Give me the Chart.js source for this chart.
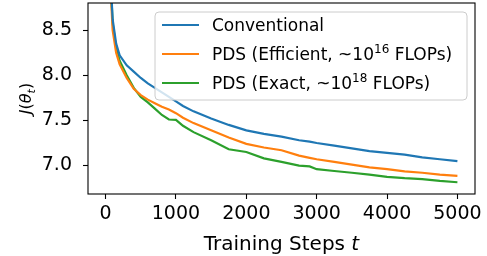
<!DOCTYPE html>
<html>
<head>
<meta charset="utf-8">
<script src="https://cdn.jsdelivr.net/npm/chart.js@4"></script>
<style>
  html, body { margin: 0; padding: 0; background: #fff; }
</style>
</head>
<body>
<canvas id="chart" width="487" height="256"></canvas>
<script>
// training steps (x values)
const steps = [0, 50, 100, 150, 200, 300, 400, 500, 600, 700, 800, 900, 1000, 1100, 1250, 1500, 1750, 2000, 2250, 2500, 2750, 2900, 3000, 3250, 3500, 3750, 4000, 4250, 4500, 4750, 5000];

// J(theta_t) per series
const conventional = [10.5, 9.4, 8.62, 8.35, 8.22, 8.11, 8.04, 7.97, 7.91, 7.86, 7.81, 7.76, 7.71, 7.66, 7.60, 7.52, 7.45, 7.39, 7.35, 7.32, 7.28, 7.265, 7.25, 7.22, 7.19, 7.16, 7.14, 7.12, 7.09, 7.07, 7.05];
const pdsEfficient = [10.5, 9.3, 8.50, 8.25, 8.12, 7.97, 7.85, 7.78, 7.73, 7.69, 7.65, 7.62, 7.58, 7.53, 7.47, 7.39, 7.31, 7.24, 7.20, 7.17, 7.11, 7.085, 7.07, 7.04, 7.01, 6.98, 6.96, 6.935, 6.92, 6.90, 6.885];
const pdsExact = [10.5, 9.4, 8.58, 8.30, 8.16, 8.00, 7.86, 7.76, 7.70, 7.63, 7.56, 7.51, 7.505, 7.44, 7.37, 7.28, 7.18, 7.15, 7.08, 7.04, 7.00, 6.99, 6.96, 6.94, 6.92, 6.90, 6.875, 6.86, 6.85, 6.83, 6.815];

const xTicks = [0, 1000, 2000, 3000, 4000, 5000];
const yTicks = [7.0, 7.5, 8.0, 8.5];

// legend labels: [text, superscript, tail]
const legendLabels = [
  ['Conventional', '', ''],
  ['PDS (Efficient, ~10', '16', ' FLOPs)'],
  ['PDS (Exact, ~10', '18', ' FLOPs)']
];
const colors = ['#1f77b4', '#ff7f0e', '#2ca02c'];
const seriesData = [conventional, pdsEfficient, pdsExact];

const FONT = "'DejaVu Sans', sans-serif";

// frame, legend and axis titles drawn by hand (matplotlib look)
const decorations = {
  id: 'decorations',
  afterDatasetsDraw(chart) {
    const ctx = chart.ctx;
    const a = chart.chartArea;
    ctx.save();

    // box spines
    ctx.strokeStyle = '#000';
    ctx.lineWidth = 1.1;
    ctx.strokeRect(a.left, a.top, a.right - a.left, a.bottom - a.top);

    // legend
    const lx = 155, ly = 12, lw = 312, lh = 88, r = 4;
    ctx.beginPath();
    ctx.moveTo(lx + r, ly);
    ctx.arcTo(lx + lw, ly, lx + lw, ly + lh, r);
    ctx.arcTo(lx + lw, ly + lh, lx, ly + lh, r);
    ctx.arcTo(lx, ly + lh, lx, ly, r);
    ctx.arcTo(lx, ly, lx + lw, ly, r);
    ctx.closePath();
    ctx.fillStyle = 'rgba(255,255,255,0.8)';
    ctx.fill();
    ctx.strokeStyle = '#cccccc';
    ctx.lineWidth = 1;
    ctx.stroke();

    legendLabels.forEach((lab, i) => {
      const cy = 25 + i * 29;
      ctx.strokeStyle = colors[i];
      ctx.lineWidth = 2.2;
      ctx.beginPath();
      ctx.moveTo(162, cy);
      ctx.lineTo(199, cy);
      ctx.stroke();
      ctx.fillStyle = '#000';
      ctx.textBaseline = 'alphabetic';
      ctx.textAlign = 'left';
      let x = 212;
      const base = cy + 6;
      ctx.font = '17px ' + FONT;
      ctx.fillText(lab[0], x, base);
      x += ctx.measureText(lab[0]).width;
      if (lab[1]) {
        ctx.font = '12px ' + FONT;
        ctx.fillText(lab[1], x, base - 7);
        x += ctx.measureText(lab[1]).width;
        ctx.font = '17px ' + FONT;
        ctx.fillText(lab[2], x, base);
      }
    });

    // x title: "Training Steps t"
    ctx.fillStyle = '#000';
    ctx.font = '20px ' + FONT;
    const t1 = 'Training Steps ';
    const w1 = ctx.measureText(t1).width;
    ctx.font = 'italic 20px ' + FONT;
    const w2 = ctx.measureText('t').width;
    const cx = (a.left + a.right) / 2;
    let sx = cx - (w1 + w2) / 2;
    ctx.font = '20px ' + FONT;
    ctx.fillText(t1, sx, 250);
    ctx.font = 'italic 20px ' + FONT;
    ctx.fillText('t', sx + w1, 250);

    // y title: J(θ_t), rotated
    const parts = [
      ['J', 'italic 16px', 0],
      ['(', '16px', 0],
      ['θ', 'italic 16px', 0],
      ['t', 'italic 11px', 4],
      [')', '16px', 0]
    ];
    let tot = 0;
    parts.forEach(p => { ctx.font = p[1] + ' ' + FONT; tot += ctx.measureText(p[0]).width; });
    ctx.translate(31, 98.5);
    ctx.rotate(-Math.PI / 2);
    let px = -tot / 2;
    parts.forEach(p => {
      ctx.font = p[1] + ' ' + FONT;
      ctx.fillText(p[0], px, p[2]);
      px += ctx.measureText(p[0]).width;
    });
    ctx.restore();
  }
};

new Chart(document.getElementById('chart'), {
  type: 'line',
  data: {
    datasets: seriesData.map((vals, i) => ({
      label: legendLabels[i].join(''),
      data: steps.map((t, j) => ({ x: t, y: vals[j] })),
      borderColor: colors[i],
      borderWidth: 2.2,
      pointRadius: 0,
      tension: 0,
      fill: false,
      clip: 0
    }))
  },
  options: {
    responsive: false,
    animation: false,
    devicePixelRatio: 1,
    layout: { padding: { top: 3, right: 12, left: 0, bottom: 0 } },
    plugins: { legend: { display: false }, tooltip: { enabled: false } },
    scales: {
      x: {
        type: 'linear',
        min: -250,
        max: 5250,
        afterBuildTicks: s => { s.ticks = xTicks.map(v => ({ value: v })); },
        afterFit: s => { s.height = 62; s.paddingLeft = 0; s.paddingRight = 0; },
        ticks: {
          autoSkip: false,
          maxRotation: 0,
          padding: 4,
          color: '#000',
          font: { family: FONT, size: 19 },
          callback: v => String(v)
        },
        grid: { drawOnChartArea: false, tickLength: 5, color: '#000', tickWidth: 1.1 },
        border: { display: false }
      },
      y: {
        min: 6.685,
        max: 8.80,
        afterBuildTicks: s => { s.ticks = yTicks.map(v => ({ value: v })); },
        afterFit: s => { s.width = 88; s.paddingTop = 0; s.paddingBottom = 0; },
        ticks: {
          autoSkip: false,
          padding: 11,
          color: '#000',
          font: { family: FONT, size: 19 },
          callback: v => v.toFixed(1)
        },
        grid: { drawOnChartArea: false, tickLength: 5, color: '#000', tickWidth: 1.1 },
        border: { display: false }
      }
    }
  },
  plugins: [decorations]
});
</script>
</body>
</html>
